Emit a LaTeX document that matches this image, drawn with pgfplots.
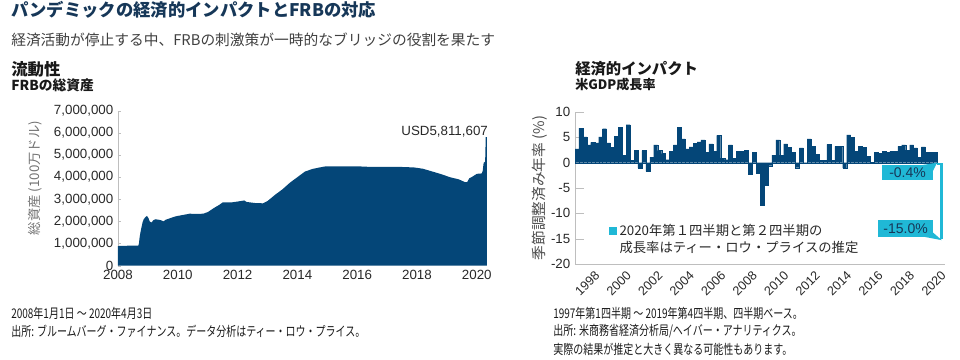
\documentclass[border=0pt]{standalone}
\usepackage{fontspec}
\setmainfont{Liberation Sans}
\newfontfamily\jp{Noto Sans CJK JP}
\usepackage{graphicx}
\usepackage{pgfplots}
\usepackage{pgfplotstable}
\pgfplotsset{compat=1.18}
\definecolor{navy}{RGB}{4,70,120}
\definecolor{cyanc}{RGB}{32,184,214}
\definecolor{titlec}{RGB}{22,55,88}
\definecolor{subc}{RGB}{64,64,64}
\definecolor{tickc}{RGB}{40,40,40}
\definecolor{axc}{RGB}{190,190,190}

\pgfplotstableread{
x v
2008.00 890000
2008.20 900000
2008.40 905000
2008.68 910000
2008.70 1000000
2008.72 1250000
2008.75 1500000
2008.78 1700000
2008.82 1950000
2008.86 2100000
2008.92 2200000
2008.97 2250000
2009.02 2150000
2009.06 2000000
2009.12 1950000
2009.18 2050000
2009.25 2100000
2009.35 2080000
2009.45 2050000
2009.52 2000000
2009.60 2080000
2009.75 2150000
2009.90 2220000
2010.00 2250000
2010.20 2300000
2010.40 2350000
2010.60 2340000
2010.85 2350000
2011.00 2420000
2011.20 2600000
2011.40 2760000
2011.50 2860000
2011.80 2860000
2012.00 2900000
2012.15 2930000
2012.22 2950000
2012.30 2880000
2012.60 2830000
2012.85 2820000
2013.00 2920000
2013.25 3200000
2013.50 3450000
2013.75 3750000
2014.00 4000000
2014.25 4250000
2014.50 4370000
2014.75 4440000
2014.95 4490000
2015.50 4490000
2016.00 4490000
2016.50 4460000
2017.00 4460000
2017.50 4460000
2017.90 4440000
2018.20 4380000
2018.50 4260000
2018.80 4140000
2019.10 4000000
2019.40 3900000
2019.60 3780000
2019.68 3780000
2019.75 3950000
2019.85 4020000
2020.00 4150000
2020.17 4170000
2020.20 4300000
2020.23 4650000
2020.28 4700000
2020.30 5811607
2020.34 5811607
}\frbtable

\pgfplotstableread{
v
2.7
6.8
5.1
3.5
4.0
3.9
5.1
6.7
3.9
3.0
5.2
7.0
1.5
7.5
0.5
2.5
-1.1
2.4
-1.7
1.1
3.5
2.4
1.8
0.6
2.2
3.5
7.0
4.7
2.7
3.1
3.8
4.1
4.5
2.0
3.7
2.3
5.4
0.9
0.6
3.5
0.9
2.3
2.2
2.5
-2.3
2.1
-2.1
-8.4
-4.4
-0.6
1.5
4.5
1.5
3.7
3.0
2.0
-1.0
2.9
-0.1
4.7
3.2
1.7
0.5
0.5
3.6
0.5
3.2
3.2
-1.1
5.5
5.0
2.3
3.2
3.0
1.3
0.1
2.0
1.9
2.2
2.0
2.3
2.2
3.2
3.5
2.5
3.5
2.9
1.1
3.1
2.0
2.1
2.1
}\gdptable

\begin{document}
\begin{tikzpicture}
\path[use as bounding box] (0,0) rectangle (720pt,-270pt);

% titles
\node[anchor=west, inner sep=0, text=titlec, font=\jp\bfseries\fontsize{13}{15}\selectfont] at (8.25pt,-7.1pt) {パンデミックの経済的インパクトとFRBの対応};
\node[anchor=west, inner sep=0, text=subc, font=\jp\fontsize{11.05}{13}\selectfont] at (8.25pt,-29.6pt) {経済活動が停止する中、FRBの刺激策が一時的なブリッジの役割を果たす};
\node[anchor=west, inner sep=0, text=black!90, font=\jp\bfseries\fontsize{12.3}{14}\selectfont] at (8.25pt,-51.75pt) {流動性};
\node[anchor=west, inner sep=0, text=black!90, font=\jp\bfseries\fontsize{10.3}{12}\selectfont] at (8.25pt,-64pt) {FRBの総資産};
\node[anchor=west, inner sep=0, text=black!90, font=\jp\bfseries\fontsize{11.5}{13}\selectfont] at (431.25pt,-51.75pt) {経済的インパクト};
\node[anchor=west, inner sep=0, text=black!90, font=\jp\bfseries\fontsize{9.8}{12}\selectfont] at (431.25pt,-63.75pt) {米GDP成長率};

% y labels
\node[rotate=90, inner sep=0, text=black!55, font=\jp\fontsize{10}{12}\selectfont] at (26.25pt,-133.5pt) {総資産 (100万ドル)};
\node[rotate=90, inner sep=0, text=black!70, font=\jp\fontsize{11}{13}\selectfont] at (405pt,-141pt) {季節調整済み年率 (\%)};

% footnotes
\node[anchor=west, inner sep=0, text=black!90, font=\jp\fontsize{10}{12}\selectfont] at (8.25pt,-234.75pt) {\scalebox{0.75}[1]{2008年1月1日 ～ 2020年4月3日}};
\node[anchor=west, inner sep=0, text=black!90, font=\jp\fontsize{10}{12}\selectfont] at (8.25pt,-248.25pt) {\scalebox{0.75}[1]{出所: ブルームバーグ・ファイナンス。データ分析はティー・ロウ・プライス。}};
\node[anchor=west, inner sep=0, text=black!90, font=\jp\fontsize{10}{12}\selectfont] at (414.75pt,-234.75pt) {\scalebox{0.75}[1]{1997年第1四半期 ～ 2019年第4四半期、四半期ベース。}};
\node[anchor=west, inner sep=0, text=black!90, font=\jp\fontsize{10}{12}\selectfont] at (414.75pt,-248.25pt) {\scalebox{0.75}[1]{出所: 米商務省経済分析局/ヘイバー・アナリティクス。}};
\node[anchor=west, inner sep=0, text=black!90, font=\jp\fontsize{10}{12}\selectfont] at (414.75pt,-261.75pt) {\scalebox{0.75}[1]{実際の結果が推定と大きく異なる可能性もあります。}};

% left chart
\begin{axis}[
  at={(88.5pt,-199.3pt)}, anchor=south west,
  scale only axis, width=276.7pt, height=116.25pt,
  xmin=2008, xmax=2020.34, ymin=0, ymax=7000000,
  axis x line*=bottom, axis y line*=left,
  x axis line style={draw=none}, y axis line style={draw=axc},
  xtick={2008,2010,...,2020}, ytick={0,1000000,...,7000000},
  scaled y ticks=false,
  /pgf/number format/assume math mode=true,
  yticklabel style={/pgf/number format/.cd, fixed, 1000 sep={,}},
  xticklabel style={/pgf/number format/.cd, 1000 sep={}},
  tick label style={font=\fontsize{10}{12}\selectfont, text=tickc},
  major x tick style={draw=none}, major y tick style={draw=axc},
  tick align=inside, major tick length=2.5pt,
  clip=false,
]
\addplot[fill=navy, draw=none] table[x=x, y=v] {\frbtable} \closedcycle;
\node[anchor=base east, inner sep=0, font=\fontsize{10}{12}\selectfont, text=tickc] at (axis cs:2020.38,5900000) {USD5,811,607};
\end{axis}

% right chart
\begin{axis}[
  at={(431.25pt,-198pt)}, anchor=south west,
  scale only axis, width=277.5pt, height=114pt,
  xmin=1997, xmax=2020.5, ymin=-20, ymax=10,
  axis x line*=bottom, axis y line*=left,
  axis line style={draw=axc},
  xtick={1998,2000,...,2020}, ytick={-20,-15,...,10},
  /pgf/number format/assume math mode=true,
  xticklabel style={rotate=45, anchor=north east, inner sep=1.5pt, yshift=-3.5pt, font=\fontsize{9.5}{11}\selectfont, text=tickc, /pgf/number format/.cd, 1000 sep={}},
  yticklabel style={font=\fontsize{10}{12}\selectfont, text=tickc},
  major x tick style={draw=none}, major y tick style={draw=axc},
  tick align=inside, major tick length=6.5pt,
  clip=false,
  legend style={at={(0.08,0.30)}, anchor=north west, draw=none, fill=none,
    font=\jp\fontsize{10}{13}\selectfont, text=tickc, cells={align=left}},
  legend cell align=left,
  legend image code/.code={\fill[cyanc] (0pt,3.3pt) rectangle (6pt,9.3pt);},
]
\addplot[ybar, bar width=0.25, bar shift=0pt, fill=navy, draw=navy, line width=0.1pt, forget plot]
  table[x expr=1997.125+0.25*\coordindex, y=v] {\gdptable};
\addplot[ybar, bar width=0.3, bar shift=0pt, fill=cyanc, draw=none, forget plot] coordinates {(2020.15,-0.4)};
\addplot[ybar, bar width=0.18, bar shift=0pt, fill=cyanc, draw=none] coordinates {(2020.3,-15)};
\addlegendentry{2020年第１四半期と第２四半期の\\成長率はティー・ロウ・プライスの推定}
% callouts
\fill[cyanc] (axis cs:2016.5,-0.45) rectangle (axis cs:2019.74,-3.4);
\fill[cyanc] (axis cs:2019.1,-0.45) -- (axis cs:2020.0,0) -- (axis cs:2019.74,-1.6) -- cycle;
\node[font=\fontsize{10.5}{12}\selectfont, text=titlec] at (axis cs:2018.12,-1.95) {-0.4\%};
\fill[cyanc] (axis cs:2016.25,-11.3) rectangle (axis cs:2019.74,-14.65);
\fill[cyanc] (axis cs:2019.2,-14.65) -- (axis cs:2020.3,-15.3) -- (axis cs:2019.74,-13.8) -- cycle;
\node[font=\fontsize{10.5}{12}\selectfont, text=titlec] at (axis cs:2018.0,-12.97) {-15.0\%};
\end{axis}
\end{tikzpicture}
\end{document}
